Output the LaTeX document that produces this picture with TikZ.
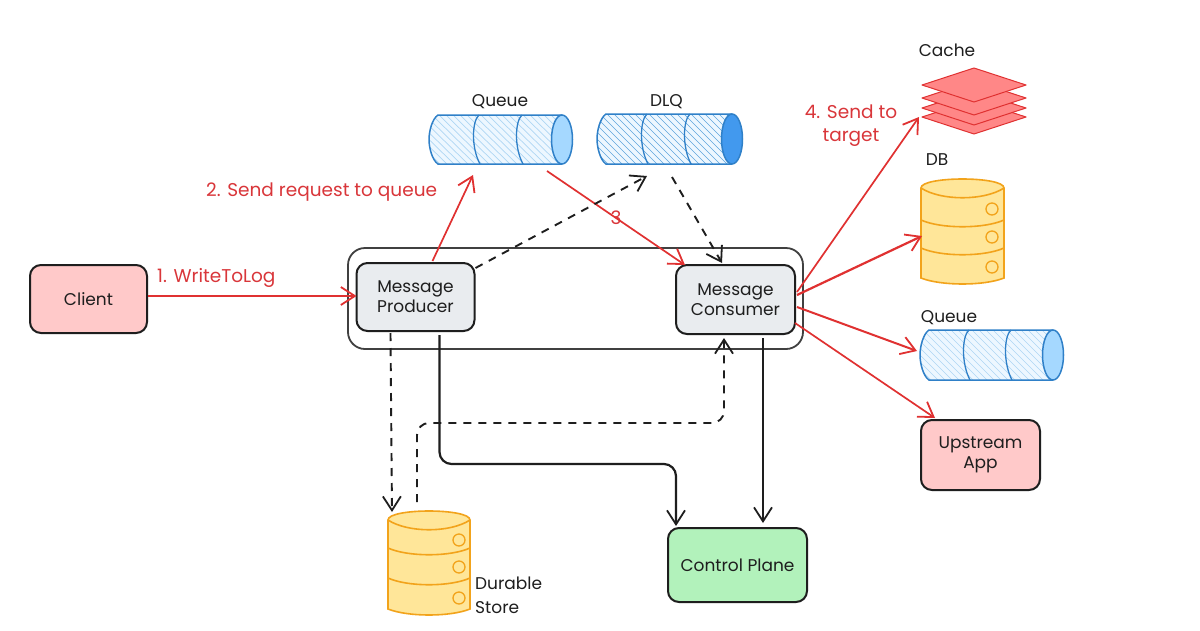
\documentclass[tikz,border=0pt]{standalone}
\usepackage{fontspec}
\setmainfont{Poppins}
\usetikzlibrary{arrows.meta,calc}
\definecolor{ink}{HTML}{1E1E1E}
\definecolor{redink}{HTML}{E03131}
\definecolor{labelred}{HTML}{D9363A}
\definecolor{bluelight}{HTML}{EDF7FF}
\definecolor{blueedge}{HTML}{2F80C8}
\definecolor{blueend}{HTML}{A5D8FF}
\definecolor{bluedark}{HTML}{4299EE}
\definecolor{hatchlight}{HTML}{AED6F3}
\definecolor{hatchdark}{HTML}{5FA5DC}
\definecolor{yellowfill}{HTML}{FFE699}
\definecolor{yellowedge}{HTML}{F2A31B}
\definecolor{pinkfill}{HTML}{FFC9C9}
\definecolor{greyfill}{HTML}{E9ECEF}
\definecolor{greenfill}{HTML}{B2F2BB}
\definecolor{cachefill}{HTML}{FF8787}
\tikzset{
  textlook/.style={font=\fontsize{17}{20}\selectfont,text=ink,align=center,inner sep=0pt},
  labeltext/.style={textlook},
  redtext/.style={textlook,font=\fontsize{18.5}{21}\selectfont,text=labelred},
  box/.style={draw=ink,line width=2pt,rounded corners=11pt,inner sep=0pt,outer sep=0pt,textlook},
  ghost/.style={inner sep=0pt,outer sep=0pt},
  tipbarb/.style={-{Straight Barb[length=14pt,width=18pt,line width=1.8pt]}},
  redarrow/.style={tipbarb,draw=redink,line width=1.7pt},
  inkarrow/.style={tipbarb,draw=ink,line width=2.2pt},
  inkdash/.style={tipbarb,draw=ink,line width=1.9pt,dash pattern=on 8pt off 7pt},
}
% name, x0, x1, y0, y1, end-ellipse cx, divider1, divider2, hatch colour
\newcommand{\queueshape}[9]{%
  \pgfmathsetmacro{\qmid}{(#4+#5)/2}%
  \pgfmathsetmacro{\qw}{#3-#2}\pgfmathsetmacro{\qh}{#5-#4}%
  \node[ghost,minimum width=\qw pt,minimum height=\qh pt] (#1) at ({(#2+#3)/2},\qmid) {};
  \begin{scope}
    \clip (#2+9,#4) -- (#6,#4) -- (#6,#5) -- (#2+9,#5) .. controls (#2+3,#5-4) and (#2,\qmid+8) .. (#2,\qmid)
      .. controls (#2,\qmid-8) and (#2+3,#4+4) .. (#2+9,#4) -- cycle;
    \fill[bluelight] (#2-2,#4-2) rectangle (#3+2,#5+2);
    \foreach \k in {-60,-53,...,170}
      \draw[#9,line width=0.7pt] (#2+\k,#4) -- (#2+\k+52,#5+2);
  \end{scope}
  \draw[blueedge,line width=1.5pt] (#6,#4) -- (#2+9,#4) .. controls (#2+3,#4+4) and (#2,\qmid-8) .. (#2,\qmid)
      .. controls (#2,\qmid+8) and (#2+3,#5-4) .. (#2+9,#5) -- (#6,#5);
  \foreach \d in {#7,#8}
    \draw[blueedge,line width=1.3pt] (\d+7,#4) .. controls (\d,#4+6) and (\d-1,\qmid+8) .. (\d+8,#5);
}
\newcommand{\queueend}[4]{% cx, ymid, ry, fill
  \draw[blueedge,fill=#4,line width=1.5pt] (#1,#2) ellipse [x radius=10.5,y radius=#3];
}
% name, x0, x1, ytop, ybottom, d1, d2
\newcommand{\dbshape}[7]{%
  \pgfmathsetmacro{\dw}{#3-#2}\pgfmathsetmacro{\dh}{#5-#4}%
  \node[ghost,minimum width=\dw pt,minimum height=\dh pt] (#1) at ({(#2+#3)/2},{(#4+#5)/2}) {};
  \draw[yellowedge,fill=yellowfill,line width=1.6pt]
    (#2,#4+9) -- (#2,#5-6) .. controls (#2+20,#5+2) and (#3-20,#5+2) .. (#3,#5-6) -- (#3,#4+9)
    .. controls (#3,#4-3) and (#2,#4-3) .. (#2,#4+9) -- cycle;
  \draw[yellowedge,line width=1.6pt] (#2,#4+9) .. controls (#2+20,#4+22) and (#3-20,#4+22) .. (#3,#4+9);
  \foreach \d in {#6,#7}
    \draw[yellowedge,line width=1.6pt] (#2,\d) .. controls (#2+20,\d+9) and (#3-20,\d+9) .. (#3,\d);
}
\newcommand{\cachelayer}[1]{%
  \draw[redink,fill=cachefill,line width=1pt,line join=round] (922,#1) -- (974,#1-17) -- (1026,#1) -- (974,#1+17) -- cycle;
}
\begin{document}
\begin{tikzpicture}[x=1pt,y=-1pt]
\useasboundingbox (0,0) rectangle (1200,630);
\fill[white] (0,0) rectangle (1200,630);

% group frame
\node[draw=ink!85,line width=1.8pt,rounded corners=17pt,minimum width=455pt,minimum height=101pt,inner sep=0pt,outer sep=0pt] (frame) at (575.5,298.5) {};

% boxes
\node[box,fill=pinkfill,minimum width=117pt,minimum height=68pt] (client) at (88.5,299) {Client};
\node[box,fill=greyfill,minimum width=118pt,minimum height=68pt] (prod) at (415.5,297) {Message\\Producer};
\node[box,fill=greyfill,minimum width=119pt,minimum height=69pt] (cons) at (735.5,299.5) {Message\\Consumer};
\node[box,fill=greenfill,minimum width=139pt,minimum height=74pt] (ctrl) at (737.5,565) {Control Plane};
\node[box,fill=pinkfill,minimum width=119pt,minimum height=70pt] (up) at (980.5,455) {Upstream\\App};

% queues
\queueshape{qa}{429}{573}{115}{164}{562}{472}{515}{hatchlight}
\queueend{562}{139.5}{24.5}{blueend}
\queueshape{dlq}{597}{742}{114}{164}{732}{640}{683}{hatchdark}
\queueend{732}{139}{25}{bluedark}
\queueshape{qb}{920}{1063}{330}{380}{1053}{962}{1004}{hatchlight}
\queueend{1053}{355}{25}{blueend}

% cache
\node[ghost,minimum width=104pt,minimum height=66pt] (cache) at (974,101) {};
\cachelayer{117}\cachelayer{108}\cachelayer{98}\cachelayer{85}

% databases
\dbshape{db}{921}{1004}{179}{284}{220}{248}
\foreach \cy in {209,237,267} \draw[yellowedge,line width=1.3pt] (992,\cy) circle (6);
\dbshape{store}{388}{470}{511}{615}{548}{578}
\foreach \cy in {540,567,598} \draw[yellowedge,line width=1.3pt] (459,\cy) circle (6);

% labels
\node[redtext,anchor=west] (l1) at (157,278) {1. WriteToLog};
\node[redtext,anchor=west] (l2) at (206,192) {2. Send request to queue};
\node[redtext] (l3) at (616,218) {3};
\node[redtext] (l4) at (851,126) {4. Send to\\[2pt]target};
\node[labeltext] (t1) at (500,102) {Queue};
\node[labeltext] (t2) at (666.5,102) {DLQ};
\node[labeltext] (t3) at (947,50) {Cache};
\node[labeltext] (t4) at (937,160) {DB};
\node[labeltext] (t5) at (949,318) {Queue};
\node[labeltext,anchor=west,align=left] (t6) at (475,595) {Durable\\[4pt]Store};

% red connectors
\draw[redarrow] ($(client.east)+(1,-3)$) -- ($(prod.west)+(0,-1)$);
\draw[redarrow] ($(prod.north west)+(76,-2)$) -- ($(qa.south west)+(44,11)$);
\draw[redarrow] ($(qa.south west)+(118,7)$) -- ($(cons.north west)+(9,0)$);
\draw[redarrow] ($(cons.north east)+(2,27)$) -- ($(cache.south west)+(-3,-17)$);
\draw[redarrow,line width=2.2pt] ($(cons.north east)+(2,30)$) -- ($(db.west)+(1,4.5)$);
\draw[redarrow,line width=2pt] ($(cons.north east)+(2,42)$) -- ($(qb.west)+(-3,-4)$);
\draw[redarrow] ($(cons.north east)+(0,58)$) -- ($(up.north west)+(14,-2)$);

% black connectors
\draw[inkdash] ($(prod.north east)+(1,5)$) -- ($(dlq.south west)+(50,12)$);
\draw[inkdash] ($(dlq.south west)+(75,13)$) -- ($(cons.north west)+(46,-2)$);
\draw[inkdash] ($(prod.south west)+(34,2)$) -- ($(store.north west)+(4,1)$);
\draw[inkdash,rounded corners=12pt] ($(store.north west)+(29,-9)$) -- ++(0,-79) -| ($(cons.south west)+(48,4)$);
\draw[inkarrow,rounded corners=12pt] ($(prod.south west)+(83,4)$) -- ++(0,129) -| ($(ctrl.north west)+(8,-2)$);
\draw[inkarrow,line width=2.6pt] ($(cons.south west)+(87,4)$) -- ($(ctrl.north west)+(95,-5)$);
\end{tikzpicture}
\end{document}
